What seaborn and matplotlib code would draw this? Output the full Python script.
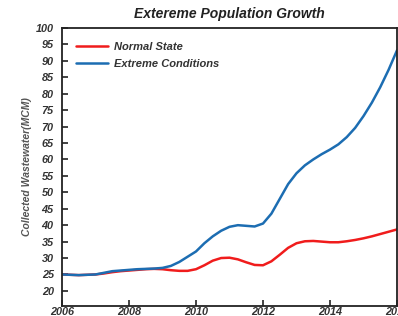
import matplotlib
matplotlib.use("Agg")
import matplotlib.pyplot as plt
import seaborn as sns
import pandas as pd

years = [2006, 2006.25, 2006.5, 2006.75, 2007, 2007.25, 2007.5, 2007.75,
         2008, 2008.25, 2008.5, 2008.75, 2009, 2009.25, 2009.5, 2009.75,
         2010, 2010.25, 2010.5, 2010.75, 2011, 2011.25, 2011.5, 2011.75,
         2012, 2012.25, 2012.5, 2012.75, 2013, 2013.25, 2013.5, 2013.75,
         2014, 2014.25, 2014.5, 2014.75, 2015, 2015.25, 2015.5, 2015.75, 2016]
normal_state = [25.0, 24.9, 24.8, 24.9, 25.0, 25.3, 25.7, 26.0,
                26.2, 26.4, 26.6, 26.7, 26.6, 26.3, 26.1, 26.1,
                26.6, 27.8, 29.2, 30.0, 30.1, 29.6, 28.7, 27.9,
                27.8, 29.0, 31.0, 33.1, 34.5, 35.1, 35.2, 35.0,
                34.8, 34.8, 35.1, 35.5, 36.0, 36.6, 37.3, 38.0, 38.7]
extreme_conditions = [25.0, 24.9, 24.8, 24.9, 25.0, 25.5, 26.0, 26.2,
                      26.4, 26.6, 26.7, 26.8, 27.0, 27.6, 28.8, 30.4,
                      32.0, 34.5, 36.6, 38.3, 39.5, 40.0, 39.8, 39.6,
                      40.5, 43.5, 48.0, 52.5, 55.8, 58.2, 60.0, 61.6,
                      63.0, 64.6, 66.8, 69.6, 73.2, 77.3, 82.0, 87.3, 93.2]
series_names = ["Normal State", "Extreme Conditions"]
x_ticks = [2006, 2008, 2010, 2012, 2014, 2016]
y_ticks = list(range(20, 101, 5))

sns.set_theme(style="white")
plt.rcParams['font.family'] = ['Liberation Sans', 'DejaVu Sans']

df = pd.DataFrame({
    "Year": years * 2,
    "Value": normal_state + extreme_conditions,
    "Series": [series_names[0]] * len(years) + [series_names[1]] * len(years),
})

fig = plt.figure(figsize=(3.98, 3.16), dpi=100)
ax = fig.add_axes([0.1558, 0.0316, 0.8417, 0.8798])

sns.lineplot(data=df, x="Year", y="Value", hue="Series",
             palette=["#f01c1c", "#1c6db2"], linewidth=1.8, ax=ax)
for ln in ax.get_lines():
    ln.set_solid_capstyle("round")
    ln.set_solid_joinstyle("round")

ax.set_xlim(2006, 2016)
ax.set_ylim(15.4, 100)
ax.set_xticks(x_ticks)
ax.set_yticks(y_ticks)
ax.set_xticklabels([str(t) for t in x_ticks], fontsize=7.8, fontweight="bold",
                   fontstyle="italic", color="#333333")
ax.set_yticklabels([str(t) for t in y_ticks], fontsize=7.8, fontweight="bold",
                   fontstyle="italic", color="#333333")
ax.tick_params(axis="both", direction="in", length=4, width=1.2, color="#222222",
               bottom=True, left=True)
ax.tick_params(axis="y", pad=6)
ax.tick_params(axis="x", pad=1)

for s in ax.spines.values():
    s.set_visible(True)
    s.set_color("#222222")
    s.set_linewidth(1.3)

ax.set_xlabel("")
ax.set_ylabel("Collected Wastewater(MCM)", fontsize=7.5, fontweight="bold",
              fontstyle="italic", color="#555555", labelpad=3)
ax.set_title("Extereme Population Growth", fontsize=10, fontweight="bold",
             fontstyle="italic", color="#222222", pad=7)

leg = ax.legend(loc="upper left", frameon=False, title=None,
                prop={"size": 8, "weight": "bold", "style": "italic"},
                handlelength=2.9, handletextpad=0.5, borderaxespad=0.85,
                labelspacing=0.6)
for t in leg.get_texts():
    t.set_color("#333333")

fig.savefig("out.png", dpi=100)
